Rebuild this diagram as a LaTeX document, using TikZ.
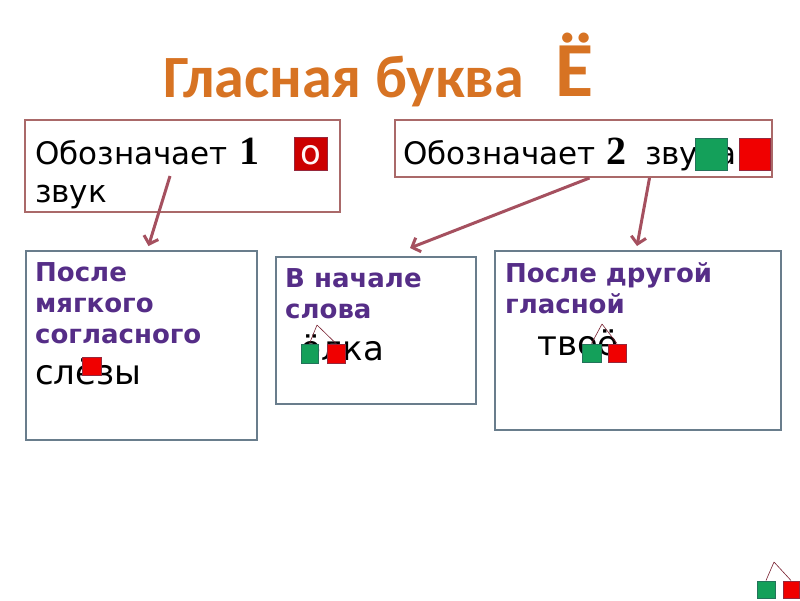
\documentclass[tikz,border=0pt]{standalone}
\usepackage{fontspec}
\setmainfont{DejaVu Sans}
\newfontfamily\titlefont{Carlito}
\newfontfamily\digitfont{Liberation Serif}
\usetikzlibrary{arrows.meta,fit}
\definecolor{rimred}{RGB}{170,105,105}
\definecolor{rimblue}{RGB}{105,125,140}
\definecolor{pointc}{RGB}{165,80,95}
\definecolor{headc}{RGB}{85,45,135}
\definecolor{titlec}{RGB}{215,115,35}
\definecolor{vowg}{RGB}{20,160,90}
\definecolor{vowgd}{RGB}{35,115,90}
\definecolor{vowr}{RGB}{240,0,0}
\definecolor{vowrd}{RGB}{150,40,60}
\tikzset{
	txt/.style={anchor=base west, inner sep=0pt},
	head/.style={txt, font=\bfseries\fontsize{26}{30}\selectfont, text=headc},
	word/.style={txt, font=\fontsize{34}{36}\selectfont},
	line/.style={txt, font=\fontsize{31}{36}\selectfont},
	digit/.style={txt, font=\digitfont\bfseries\fontsize{40}{40}\selectfont},
	frame/.style={draw=#1, line width=2pt, inner sep=0pt},
	gsq/.style={draw=vowgd, fill=vowg, line width=1pt, inner sep=0pt},
	rsq/.style={draw=vowrd, fill=vowr, line width=1pt, inner sep=0pt},
	twig/.style={draw=vowrd!80!black, line width=0.6pt},
	pointer/.style={draw=pointc, line width=3pt, -{Straight Barb[length=7pt,width=15pt]}}
}
\begin{document}
\begin{tikzpicture}[x=1pt,y=-1pt]
	\useasboundingbox[fill=white] (0,0) rectangle (800,600);
	% title
	\node[txt, font=\titlefont\bfseries\fontsize{60}{60}\selectfont, text=titlec] (title) at (163,97) {Гласная буква};
	\node[txt, font=\titlefont\bfseries\fontsize{78}{78}\selectfont, text=titlec] (yo) at (555,96) {Ё};
	% top boxes
	\node[frame=rimred, fit={(25,120) (340,212)}] (one) {};
	\node[frame=rimred, fit={(395,120) (772,177)}] (two) {};
	\node[line] (w1) at (35,164) {Обозначает};
	\node[digit] (d1) at (239,164) {1};
	\node[line] (w2) at (35,202) {звук};
	\node[rsq, fill=vowr!85!black, fit={(294,137) (327,170)}] (o1) {};
	\node[font=\fontsize{34}{34}\selectfont, text=white!85!pink, inner sep=0pt] (o) at ([yshift=-2pt]o1.center) {о};
	\node[line] (w3) at (403,164) {Обозначает};
	\node[digit] (d2) at (606,164) {2};
	\node[line] (w4) at (645,164) {звука};
	\node[gsq, fit={(695,138) (727,170)}] (g0) {};
	\node[rsq, fit={(739,138) (770,170)}] (r0) {};
	% bottom boxes
	\node[frame=rimblue, fit={(26,251) (257,440)}] (soft) {};
	\node[frame=rimblue, fit={(276,257) (476,404)}] (start) {};
	\node[frame=rimblue, fit={(495,251) (781,430)}] (after) {};
	\node[head] (h1) at (35,281) {После};
	\node[head] (h2) at (35,312) {мягкого};
	\node[head] (h3) at (35,343) {согласного};
	\node[word] (s1) at (35,384) {слёзы};
	\node[rsq, fit={(82,357) (101,375)}] (r1) {};
	\node[head] (h4) at (285,287) {В начале};
	\node[head] (h5) at (285,318) {слова};
	\node[word] (s2) at (300,360) {ёлка};
	\node[gsq, fit={(301,344) (318,363)}] (g2) {};
	\node[rsq, fit={(327,344) (345,363)}] (r2) {};
	\coordinate (t2) at (317,325);
	\draw[twig] (t2) -- (g2.north) (t2) -- (r2.north);
	\node[head] (h6) at (505,282) {После другой};
	\node[head] (h7) at (505,313) {гласной};
	\node[word] (s3) at (537,355) {твоё};
	\node[gsq, fit={(582,344) (601,362)}] (g3) {};
	\node[rsq, fit={(608,344) (626,362)}] (r3) {};
	\coordinate (t3) at (602,324);
	\draw[twig] (t3) -- (g3.north) (t3) -- (r3.north);
	% corner sign
	\node[gsq, fit={(757,581) (775,598)}] (g4) {};
	\node[rsq, fit={(783,581) (799,598)}] (r4) {};
	\coordinate (t4) at (774,562);
	\draw[twig] (t4) -- (g4.north) (t4) -- (r4.north);
	% arrows
	\coordinate (a1) at (170,176);
	\draw[pointer] (a1) -- ([xshift=7pt,yshift=4pt]soft.north);
	\draw[pointer] ([xshift=6pt]two.south) -- ([xshift=34pt,yshift=8pt]start.north);
	\draw[pointer] ([xshift=66pt]two.south) -- ([xshift=-1pt,yshift=4pt]after.north);
\end{tikzpicture}
\end{document}
